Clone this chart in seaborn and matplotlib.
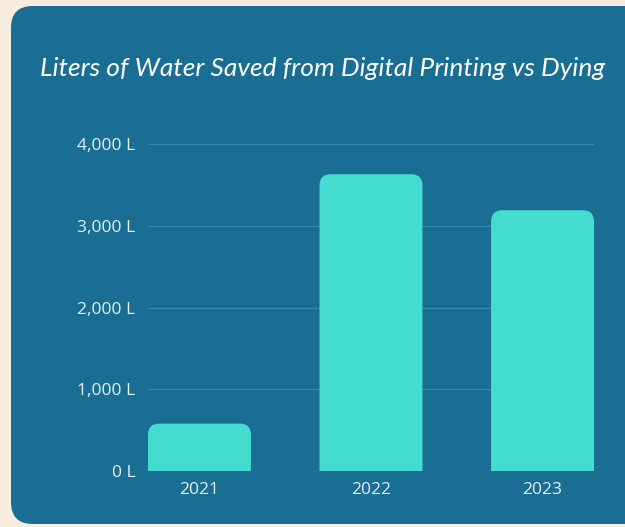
import matplotlib
matplotlib.use("Agg")
import matplotlib.pyplot as plt
import seaborn as sns
import pandas as pd
from matplotlib.patches import FancyBboxPatch
from matplotlib.ticker import FuncFormatter

# Data
years = ["2021", "2022", "2023"]
liters_saved = [580, 3630, 3190]
ytick_values = [0, 1000, 2000, 3000, 4000]

title_text = "Liters of Water Saved from Digital Printing vs Dying"

PAGE_BG = "#f6eddf"
PANEL = "#1b6e93"
BAR = "#43dccf"
GRID = "#3888ac"
TEXT = "#dff1f2"

sns.set_theme(style="white")
plt.rcParams["font.family"] = ["Open Sans", "DejaVu Sans"]

W, H = 625, 527
fig = plt.figure(figsize=(W / 100, H / 100), dpi=100)
fig.patch.set_facecolor(PAGE_BG)

# Rounded blue card behind the chart
panel = FancyBboxPatch((11 / W, 3 / H), 650 / W, 518 / H,
                       boxstyle="round,pad=0,rounding_size=0.035",
                       mutation_aspect=W / H,
                       transform=fig.transFigure, facecolor=PANEL,
                       edgecolor="none", zorder=-5)
fig.patches.append(panel)

ax_left, ax_right = 148 / W, 594 / W
ax_bottom, ax_top = (H - 471) / H, (H - 144) / H
ax = fig.add_axes([ax_left, ax_bottom, ax_right - ax_left, ax_top - ax_bottom])
ax.set_facecolor("none")
ax.set_zorder(2)

df = pd.DataFrame({"year": years, "liters": liters_saved})
sns.barplot(data=df, x="year", y="liters", color=BAR, width=0.6,
            saturation=1, ax=ax, zorder=3)

ax.set_xlim(-0.3, 2.3)
ax.set_ylim(0, 4000)

# Replace the square bars with top-rounded ones
px_per_x = (ax_right - ax_left) * W / 2.6
px_per_y = (ax_top - ax_bottom) * H / 4000
radius_px = 11
rx = radius_px / px_per_x
aspect = (radius_px / px_per_y) / rx
for p in list(ax.patches):
    x0, w, h = p.get_x(), p.get_width(), p.get_height()
    p.set_visible(False)
    extra = radius_px / px_per_y
    rb = FancyBboxPatch((x0, -extra), w, h + extra,
                        boxstyle=f"round,pad=0,rounding_size={rx}",
                        mutation_aspect=aspect,
                        facecolor=BAR, edgecolor="none", zorder=3)
    ax.add_patch(rb)

ax.set_yticks(ytick_values)
ax.yaxis.set_major_formatter(FuncFormatter(lambda v, _: f"{int(v):,} L"))
ax.grid(axis="y", color=GRID, linewidth=0.9, zorder=0)
ax.grid(axis="x", visible=False)
for s in ax.spines.values():
    s.set_visible(False)
ax.tick_params(axis="both", length=0, colors=TEXT, labelsize=12.5)
ax.tick_params(axis="y", pad=9)
ax.tick_params(axis="x", pad=8)
ax.set_xlabel("")
ax.set_ylabel("")

fig.text(323 / W, 1 - 68 / H, title_text, ha="center", va="center",
         color="white", fontsize=19, fontstyle="italic",
         family=["Lato", "DejaVu Sans"])

fig.savefig("out.png", dpi=100, facecolor=PAGE_BG)
